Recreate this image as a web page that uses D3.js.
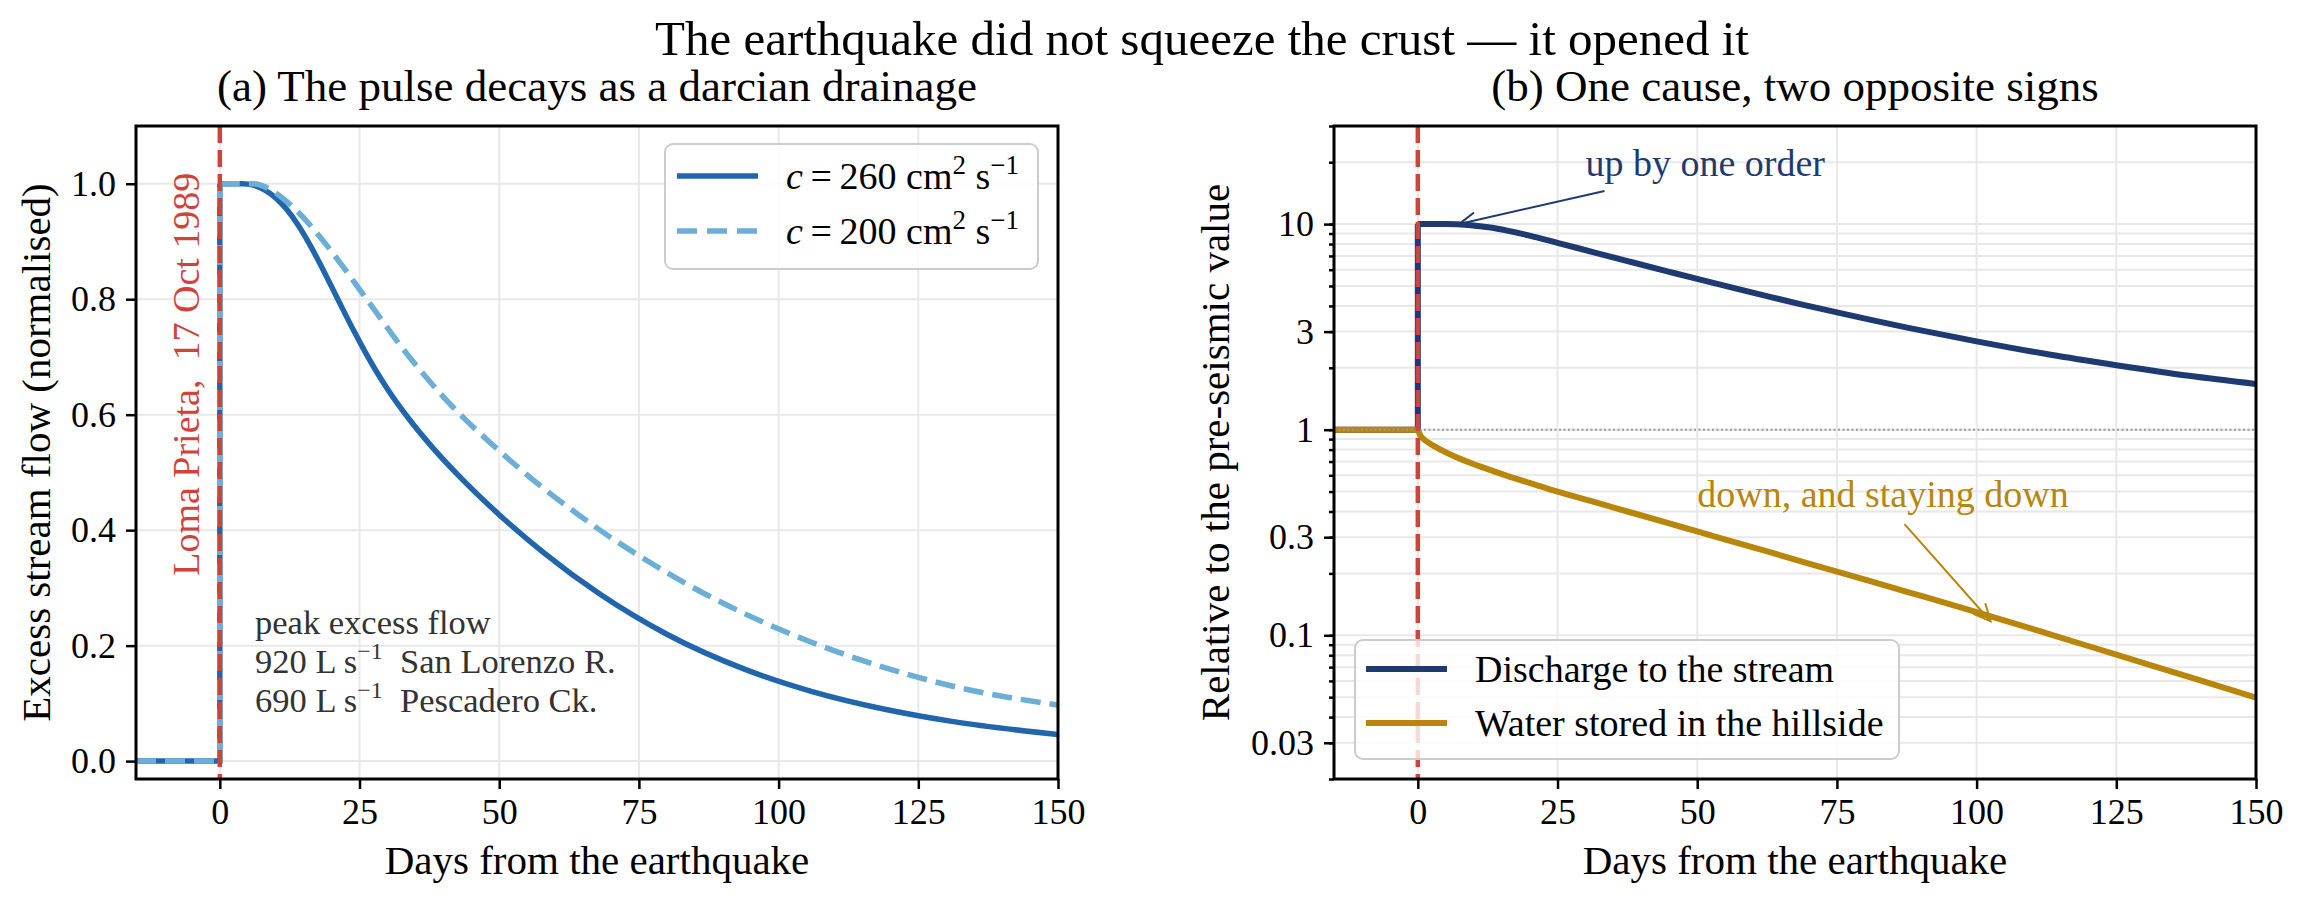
<!DOCTYPE html>
<html>
<head>
<meta charset="utf-8">
<script src="https://cdn.jsdelivr.net/npm/d3@7"></script>
<style>
body { margin: 0; background: #fff; }
text { font-family: "Liberation Serif", "Times New Roman", serif; white-space: pre; }
</style>
</head>
<body>
<div id="canvas"></div>
<script>
// data
// (a) normalised excess stream flow
const flow260Days = [0, 4, 6, 8, 10, 12, 14, 16, 18, 20, 22, 24, 26, 28, 30, 34, 38, 43, 50, 58, 68, 80, 94, 106, 119, 131, 150];
const flow260 = [1.0, 1.0, 0.9975, 0.9895, 0.9755, 0.9552, 0.9284, 0.8962, 0.8602, 0.8218, 0.7828, 0.7448, 0.7088, 0.6752, 0.6445, 0.5907, 0.5439, 0.4919, 0.4268, 0.3608, 0.2893, 0.2197, 0.1588, 0.1204, 0.0898, 0.0688, 0.046];
const flow200Days = [0, 3, 6, 8, 10, 12, 14, 16, 19, 22, 25, 28, 31, 34, 37, 40, 44, 48, 53, 58, 64, 70, 77, 85, 94, 106, 119, 131, 150];
const flow200 = [1.0, 1.0, 1.0, 0.995, 0.984, 0.969, 0.951, 0.930, 0.895, 0.857, 0.817, 0.777, 0.737, 0.699, 0.664, 0.631, 0.591, 0.555, 0.512, 0.472, 0.428, 0.387, 0.344, 0.299, 0.255, 0.2055, 0.162, 0.130, 0.097];
const preDays = [-15, 0];
const preFlow = [0, 0];
const diffusivities = [260, 200];

// (b) relative to the pre-seismic value
const dischargeDays = [0, 5, 7, 10, 13, 16, 20, 25, 32, 38, 45, 50, 57, 63, 69, 75, 88, 100, 113, 125, 138, 150];
const discharge = [10, 10, 9.98, 9.85, 9.62, 9.29, 8.79, 8.11, 7.23, 6.56, 5.86, 5.41, 4.85, 4.43, 4.05, 3.72, 3.12, 2.69, 2.32, 2.06, 1.83, 1.67];
const storedDays = [0, 0.5, 1, 2.5, 4.5, 6.5, 9, 12, 16, 20, 25, 32, 38, 45, 50, 63, 75, 88, 100, 113, 125, 138, 150];
const stored = [1.0, 0.933, 0.902, 0.845, 0.789, 0.743, 0.697, 0.650, 0.596, 0.551, 0.4995, 0.4416, 0.3967, 0.350, 0.320, 0.2535, 0.204, 0.1614, 0.1297, 0.1014, 0.0805, 0.0628, 0.0498];
const preRatio = [1, 1];

// ticks
const xTicks = [0, 25, 50, 75, 100, 125, 150];
const flowTicks = [0, 0.2, 0.4, 0.6, 0.8, 1.0];
const ratioTicks = [0.03, 0.1, 0.3, 1, 3, 10];
const ratioTickLabels = ["0.03", "0.1", "0.3", "1", "3", "10"];

// define svg canvas
const width = 2305, height = 902;
const panelA = {left: 136, right: 1058, top: 126, bottom: 779},
      panelB = {left: 1334, right: 2256, top: 126, bottom: 779};

const svg = d3.select("#canvas")
    .append("svg")
    .attr("width", width)
    .attr("height", height)
    .style("background", "#fff");

// define colour palette
const darkBlue = "#2166ac", lightBlue = "#6baed6", navy = "#1f3a70",
      gold = "#b8860b", quakeRed = "#d0433a", gridGrey = "#e8e8e8", noteGrey = "#333333";

// define scales
const xA = d3.scaleLinear().domain([-15, 150]).range([panelA.left, panelA.right]);
const yA = d3.scaleLinear().domain([-0.031, 1.1]).range([panelA.bottom, panelA.top]);
const xB = d3.scaleLinear().domain([-15, 150]).range([panelB.left, panelB.right]);
const yB = d3.scaleLog().domain([0.02, 30]).range([panelB.bottom, panelB.top]);

// clip paths
const defs = svg.append("defs");
[["clipA", panelA], ["clipB", panelB]].forEach(([id, p]) => {
    defs.append("clipPath").attr("id", id)
        .append("rect")
        .attr("x", p.left).attr("y", p.top)
        .attr("width", p.right - p.left).attr("height", p.bottom - p.top);
});

const gA = svg.append("g"), gB = svg.append("g");
const plotA = gA.append("g").attr("clip-path", "url(#clipA)");
const plotB = gB.append("g").attr("clip-path", "url(#clipB)");

// grid
plotA.selectAll(".vgrid").data(xTicks).join("line")
    .attr("x1", d => xA(d)).attr("x2", d => xA(d))
    .attr("y1", panelA.top).attr("y2", panelA.bottom)
    .attr("stroke", gridGrey).attr("stroke-width", 2);
plotA.selectAll(".hgrid").data(flowTicks).join("line")
    .attr("x1", panelA.left).attr("x2", panelA.right)
    .attr("y1", d => yA(d)).attr("y2", d => yA(d))
    .attr("stroke", gridGrey).attr("stroke-width", 2);

plotB.selectAll(".vgrid").data(xTicks).join("line")
    .attr("x1", d => xB(d)).attr("x2", d => xB(d))
    .attr("y1", panelB.top).attr("y2", panelB.bottom)
    .attr("stroke", gridGrey).attr("stroke-width", 2);
plotB.selectAll(".hgrid").data(yB.ticks()).join("line")
    .attr("x1", panelB.left).attr("x2", panelB.right)
    .attr("y1", d => yB(d)).attr("y2", d => yB(d))
    .attr("stroke", gridGrey).attr("stroke-width", 2);

// line generators
const stepA = d3.line().x(d => xA(d[0])).y(d => yA(d[1]));
const curveA = d3.line().curve(d3.curveMonotoneX).x(d => xA(d[0])).y(d => yA(d[1]));
const stepB = d3.line().x(d => xB(d[0])).y(d => yB(d[1]));
const curveB = d3.line().curve(d3.curveMonotoneX).x(d => xB(d[0])).y(d => yB(d[1]));

// plot (a) curves
const seriesA = [
    {days: flow260Days, values: flow260, colour: darkBlue, dash: null},
    {days: flow200Days, values: flow200, colour: lightBlue, dash: "20,9"}
];
seriesA.forEach(s => {
    const pts = s.days.map((d, i) => [d, s.values[i]]);
    const pre = preDays.map((d, i) => [d, preFlow[i]]).concat([pts[0]]);
    [stepA(pre), curveA(pts)].forEach(path => {
        plotA.append("path")
            .attr("d", path)
            .attr("fill", "none")
            .attr("stroke", s.colour)
            .attr("stroke-width", 5.5)
            .attr("stroke-dasharray", s.dash);
    });
});

// plot (b) curves
const seriesB = [
    {days: dischargeDays, values: discharge, colour: navy, label: "Discharge to the stream"},
    {days: storedDays, values: stored, colour: gold, label: "Water stored in the hillside"}
];
seriesB.forEach(s => {
    const pts = s.days.map((d, i) => [d, s.values[i]]);
    const pre = preDays.map((d, i) => [d, preRatio[i]]).concat([pts[0]]);
    [stepB(pre), curveB(pts)].forEach(path => {
        plotB.append("path")
            .attr("d", path)
            .attr("fill", "none")
            .attr("stroke", s.colour)
            .attr("stroke-width", 6);
    });
});

// reference line at the pre-seismic value
plotB.append("line")
    .attr("x1", panelB.left).attr("x2", panelB.right)
    .attr("y1", yB(1)).attr("y2", yB(1))
    .attr("stroke", "#999")
    .attr("stroke-width", 2)
    .attr("stroke-dasharray", "2,2.5");

// earthquake line
[[plotA, xA, panelA], [plotB, xB, panelB]].forEach(([g, x, p]) => {
    g.append("line")
        .attr("x1", x(0)).attr("x2", x(0))
        .attr("y1", p.top).attr("y2", p.bottom)
        .attr("stroke", quakeRed)
        .attr("stroke-width", 4.5)
        .attr("stroke-dasharray", "17,7");
});

// quake label
gA.append("text")
    .attr("transform", "translate(" + xA(-3.7) + "," + yA(0.67) + ") rotate(-90)")
    .attr("text-anchor", "middle")
    .attr("font-size", 38)
    .attr("fill", quakeRed)
    .text("Loma Prieta,  17 Oct 1989");

// peak flow note
const peakNote = gA.append("text")
    .attr("x", xA(6.3))
    .attr("y", yA(0.22))
    .attr("font-size", 34.5)
    .attr("fill", noteGrey);
peakNote.append("tspan").attr("x", xA(6.3)).text("peak excess flow");
[["920", "San Lorenzo R."], ["690", "Pescadero Ck."]].forEach(([q, name]) => {
    peakNote.append("tspan").attr("x", xA(6.3)).attr("dy", 39).text(q + " L s");
    peakNote.append("tspan").attr("font-size", 24).attr("dy", -14).text("\u22121");
    peakNote.append("tspan").attr("dy", 14).text("  " + name);
});

// arrows
function drawArrow(g, x1, y1, x2, y2, colour) {
    g.append("line")
        .attr("x1", x1).attr("y1", y1).attr("x2", x2).attr("y2", y2)
        .attr("stroke", colour).attr("stroke-width", 2);
    const ang = Math.atan2(y2 - y1, x2 - x1), len = 17, half = 8;
    const bx = x2 - len * Math.cos(ang), by = y2 - len * Math.sin(ang);
    const px = -Math.sin(ang) * half, py = Math.cos(ang) * half;
    g.append("path")
        .attr("d", "M" + (bx + px) + "," + (by + py) + "L" + x2 + "," + y2 + "L" + (bx - px) + "," + (by - py))
        .attr("fill", "none").attr("stroke", colour).attr("stroke-width", 2);
}

gB.append("text")
    .attr("x", xB(30)).attr("y", yB(17.2))
    .attr("font-size", 38).attr("fill", navy)
    .text("up by one order");
drawArrow(gB, xB(33.4), yB(14.5), xB(7.4), yB(10), navy);

gB.append("text")
    .attr("x", xB(50)).attr("y", yB(0.422))
    .attr("font-size", 38).attr("fill", gold)
    .text("down, and staying down");
drawArrow(gB, xB(87.1), yB(0.347), xB(102.5), yB(0.117), gold);

// legends
const legendA = gA.append("g");
legendA.append("rect")
    .attr("x", 665).attr("y", 144).attr("width", 373).attr("height", 125)
    .attr("rx", 8)
    .attr("fill", "white").attr("fill-opacity", 0.8)
    .attr("stroke", "#cccccc").attr("stroke-width", 2);
seriesA.forEach((s, i) => {
    const cy = 176 + i * 55;
    legendA.append("line")
        .attr("x1", 677).attr("x2", 758).attr("y1", cy).attr("y2", cy)
        .attr("stroke", s.colour).attr("stroke-width", 5.5)
        .attr("stroke-dasharray", s.dash ? "20,10" : null);
    const t = legendA.append("text").attr("x", 786).attr("y", cy + 13).attr("font-size", 38);
    t.append("tspan").attr("font-style", "italic").text("c");
    t.append("tspan").text("\u2009=\u2009" + diffusivities[i] + " cm");
    t.append("tspan").attr("font-size", 27).attr("dy", -15).text("2");
    t.append("tspan").attr("dy", 15).text(" s");
    t.append("tspan").attr("font-size", 27).attr("dy", -15).text("\u22121");
});

const legendB = gB.append("g");
legendB.append("rect")
    .attr("x", 1355).attr("y", 640).attr("width", 544).attr("height", 119)
    .attr("rx", 8)
    .attr("fill", "white").attr("fill-opacity", 0.8)
    .attr("stroke", "#cccccc").attr("stroke-width", 2);
seriesB.forEach((s, i) => {
    const cy = 669 + i * 54;
    legendB.append("line")
        .attr("x1", 1366).attr("x2", 1447).attr("y1", cy).attr("y2", cy)
        .attr("stroke", s.colour).attr("stroke-width", 6);
    legendB.append("text")
        .attr("x", 1475).attr("y", cy + 13)
        .attr("font-size", 38)
        .text(s.label);
});

// axes
function styleAxis(g) {
    g.select(".domain").remove();
    g.selectAll(".tick line").attr("stroke", "black").attr("stroke-width", 2.5);
    g.selectAll(".tick text")
        .attr("font-size", 36)
        .attr("font-family", "Liberation Serif, Times New Roman, serif")
        .attr("fill", "black");
}

gA.append("g")
    .attr("transform", "translate(0," + panelA.bottom + ")")
    .call(d3.axisBottom(xA).tickValues(xTicks).tickSize(10).tickPadding(9))
    .call(styleAxis);
gA.append("g")
    .attr("transform", "translate(" + panelA.left + ",0)")
    .call(d3.axisLeft(yA).tickValues(flowTicks).tickFormat(d3.format(".1f")).tickSize(10).tickPadding(10))
    .call(styleAxis);

gB.append("g")
    .attr("transform", "translate(0," + panelB.bottom + ")")
    .call(d3.axisBottom(xB).tickValues(xTicks).tickSize(10).tickPadding(9))
    .call(styleAxis);
gB.append("g")
    .attr("transform", "translate(" + panelB.left + ",0)")
    .call(d3.axisLeft(yB).tickValues(yB.ticks()).tickFormat("").tickSize(5))
    .call(styleAxis);
gB.append("g")
    .attr("transform", "translate(" + panelB.left + ",0)")
    .call(d3.axisLeft(yB).tickValues(ratioTicks).tickFormat((d, i) => ratioTickLabels[i]).tickSize(10).tickPadding(10))
    .call(styleAxis);

// frames
[[gA, panelA], [gB, panelB]].forEach(([g, p]) => {
    g.append("rect")
        .attr("x", p.left).attr("y", p.top)
        .attr("width", p.right - p.left).attr("height", p.bottom - p.top)
        .attr("fill", "none").attr("stroke", "black").attr("stroke-width", 3);
});

// axis labels
[[gA, panelA], [gB, panelB]].forEach(([g, p]) => {
    g.append("text")
        .attr("x", (p.left + p.right) / 2).attr("y", 874)
        .attr("text-anchor", "middle").attr("font-size", 41)
        .text("Days from the earthquake");
});
gA.append("text")
    .attr("transform", "translate(50," + (panelA.top + panelA.bottom) / 2 + ") rotate(-90)")
    .attr("text-anchor", "middle").attr("font-size", 41)
    .text("Excess stream flow (normalised)");
gB.append("text")
    .attr("transform", "translate(1229," + (panelB.top + panelB.bottom) / 2 + ") rotate(-90)")
    .attr("text-anchor", "middle").attr("font-size", 41)
    .text("Relative to the pre-seismic value");

// titles
gA.append("text")
    .attr("x", (panelA.left + panelA.right) / 2).attr("y", 101)
    .attr("text-anchor", "middle").attr("font-size", 45)
    .text("(a) The pulse decays as a darcian drainage");
gB.append("text")
    .attr("x", (panelB.left + panelB.right) / 2).attr("y", 101)
    .attr("text-anchor", "middle").attr("font-size", 45)
    .text("(b) One cause, two opposite signs");
svg.append("text")
    .attr("x", 1202).attr("y", 55)
    .attr("text-anchor", "middle").attr("font-size", 49)
    .text("The earthquake did not squeeze the crust \u2014 it opened it");
</script>
</body>
</html>
